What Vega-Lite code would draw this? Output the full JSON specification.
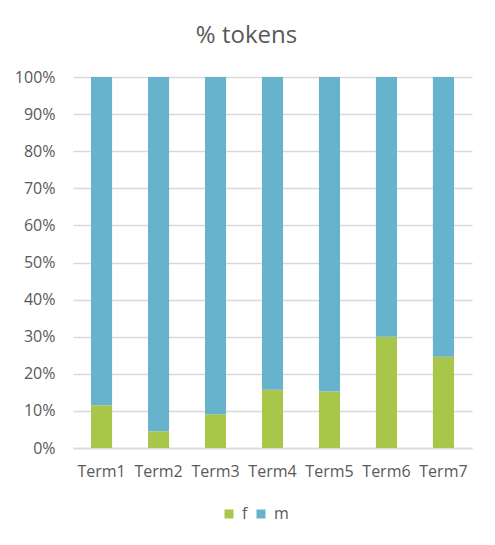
{
  "$schema": "https://vega.github.io/schema/vega-lite/v6.json",
  "autosize": {"type": "none"},
  "padding": {"left": 73, "top": 77, "right": 23, "bottom": 97},
  "width": 399,
  "height": 371,
  "background": "white",
  "title": {"text": "% tokens", "font": "Open Sans", "fontSize": 24, "fontWeight": "normal", "color": "#595959", "offset": 21, "anchor": "middle", "dx": -26},
  "data": {"values": [
    {"term": "Term1", "gender": "f", "value": 11.5},
    {"term": "Term1", "gender": "m", "value": 88.5},
    {"term": "Term2", "gender": "f", "value": 4.5},
    {"term": "Term2", "gender": "m", "value": 95.5},
    {"term": "Term3", "gender": "f", "value": 9.1},
    {"term": "Term3", "gender": "m", "value": 90.9},
    {"term": "Term4", "gender": "f", "value": 15.7},
    {"term": "Term4", "gender": "m", "value": 84.3},
    {"term": "Term5", "gender": "f", "value": 15.2},
    {"term": "Term5", "gender": "m", "value": 84.8},
    {"term": "Term6", "gender": "f", "value": 30.0},
    {"term": "Term6", "gender": "m", "value": 70.0},
    {"term": "Term7", "gender": "f", "value": 24.6},
    {"term": "Term7", "gender": "m", "value": 75.4}
  ]},
  "mark": {"type": "bar"},
  "encoding": {
    "x": {"field": "term", "type": "nominal", "scale": {"paddingInner": 0.63, "paddingOuter": 0.316},
      "axis": {"title": null, "labelAngle": 0, "ticks": false, "domainColor": "#D9D9D9", "domainWidth": 1.5, "labelColor": "#595959", "labelFont": "Open Sans", "labelFontSize": 16, "labelPadding": 15}},
    "y": {"field": "value", "type": "quantitative", "stack": "normalize",
      "scale": {"domain": [0, 1]},
      "axis": {"title": null, "values": [0, 0.1, 0.2, 0.3, 0.4, 0.5, 0.6, 0.7, 0.8, 0.9, 1], "format": ".0%", "domain": false, "ticks": false, "gridColor": "#D9D9D9", "gridWidth": 1.5, "labelColor": "#595959", "labelFont": "Open Sans", "labelFontSize": 16, "labelPadding": 18}},
    "color": {"field": "gender", "type": "nominal",
      "scale": {"domain": ["f", "m"], "range": ["#A8C64A", "#67B3CD"]},
      "legend": {"title": null, "orient": "none", "legendX": 148, "legendY": 429, "direction": "horizontal", "symbolType": "square", "symbolSize": 81, "symbolStrokeWidth": 0, "labelFont": "Open Sans", "labelFontSize": 16, "labelColor": "#595959", "labelOffset": 5, "columnPadding": 5}},
    "order": {"field": "gender", "sort": "ascending"}
  },
  "config": {"view": {"stroke": null}}
}
